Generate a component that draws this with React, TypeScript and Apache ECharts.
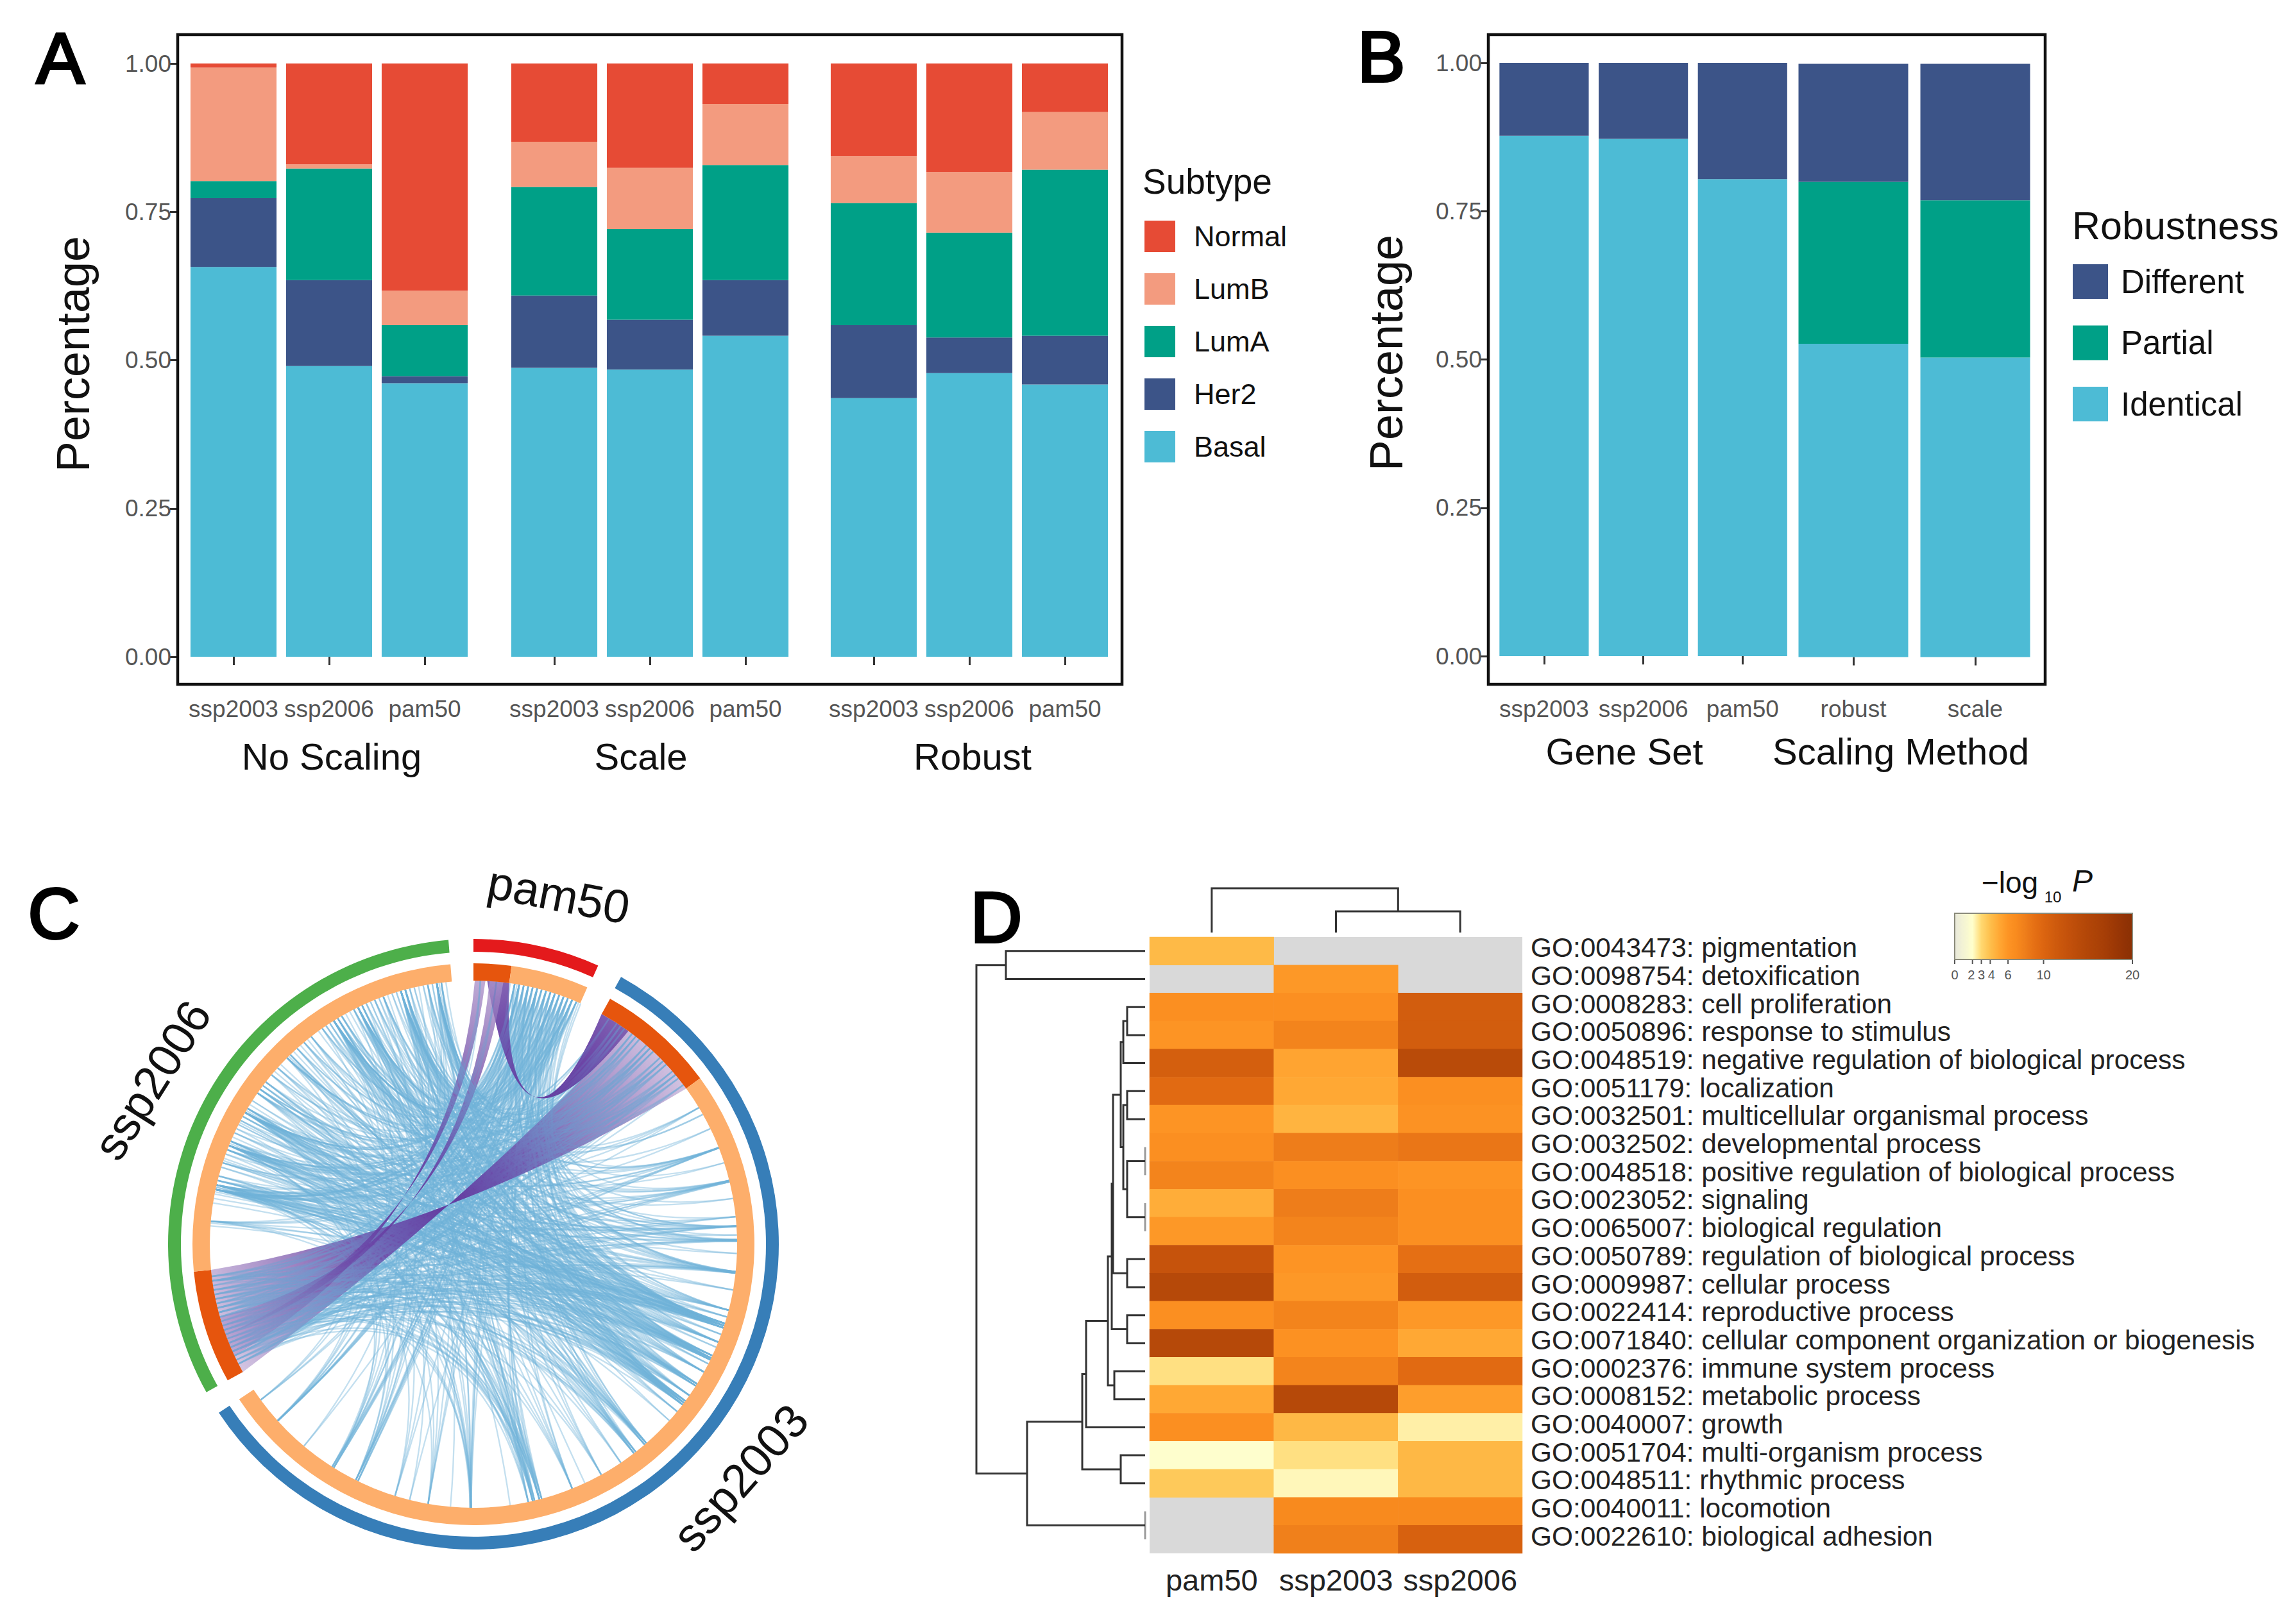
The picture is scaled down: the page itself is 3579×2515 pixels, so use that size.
import React, { useEffect, useRef } from "react";
import * as echarts from "echarts";

// ---------- Panel A ----------
const subsetsA = ["ssp2003", "ssp2006", "pam50"];
const basalA = [[0.657, 0.49, 0.461], [0.487, 0.484, 0.541], [0.436, 0.478, 0.459]];
const her2A = [[0.116, 0.145, 0.012], [0.122, 0.084, 0.094], [0.123, 0.06, 0.082]];
const lumAA = [[0.029, 0.188, 0.086], [0.183, 0.153, 0.194], [0.206, 0.177, 0.28]];
const lumBA = [[0.191, 0.007, 0.058], [0.076, 0.103, 0.103], [0.079, 0.102, 0.097]];
const normalA = [[0.007, 0.17, 0.383], [0.132, 0.176, 0.068], [0.156, 0.183, 0.082]];
const facetTitlesA = ["No Scaling", "Scale", "Robust"];

// ---------- Panel B ----------
const geneSetsB = ["ssp2003", "ssp2006", "pam50"];
const scalingB = ["robust", "scale"];
const identicalB = [[0.877, 0.872, 0.804], [0.528, 0.505]];
const partialB = [[0, 0, 0], [0.273, 0.265]];
const differentB = [[0.123, 0.128, 0.196], [0.199, 0.23]];

// ---------- Panel C (angles in degrees clockwise from the top) ----------
const outerArcs = [[0, 24.1], [28.9, 236.5], [241, 355.3]];
const innerDarkArcs = [[0, 7.8], [29.1, 53.8], [241, 264.4]];
const innerLightArcs = [[7.8, 23.9], [53.8, 236.5], [264.4, 355.3]];
const chordNames = ["pam50", "ssp2003", "ssp2006"];
// a1, a2, b1, b2, pinch offset x, pinch offset y
const purpleRibbons = [
  [36, 53.8, 241, 264.4, -38, -62],
  [3, 7.8, 29.1, 36, 95, -230],
  [0.3, 2.6, 245, 250, -108, -75],
  [3.5, 6.5, 250, 254, -98, -65],
];
// one end on ssp2003 or pam50 -> other ends
const blueLinkGroups: [number, number[]][] = [
  [58.8, [345, 318, 292, 255]], [60.5, [340, 12]], [64, [330, 283]], [68.6, [352, 326, 300, 262, 248]],
  [72, [14, 312]], [76.3, [339, 305, 288, 256, 245]], [80, [10, 322]], [84, [344, 299, 275, 258]],
  [86.1, [333, 315, 292, 282, 252, 20]], [88, [350, 303]], [89.3, [328, 308, 284, 260, 247, 16]], [92, [336, 295]],
  [96.3, [345, 325, 300, 280, 255, 243, 11, 22]], [100, [316, 287, 262]],
  [104.5, [352, 338, 320, 307, 291, 274.6, 258, 250, 13, 19]], [106, [330, 297, 283, 246]],
  [108, [353, 344, 334, 328, 315.5, 311, 301, 293, 285, 282, 262, 256, 249, 244, 9, 15, 21, 23]],
  [110, [340, 305, 288]], [111.8, [347, 332, 322, 308, 297, 282, 275, 259, 251, 12, 18]], [113, [326, 300]],
  [115.6, [352, 342, 329, 316, 303, 291, 284, 263, 254, 246, 10, 17, 23.5]], [117, [335, 310, 279]],
  [119, [345, 333, 319, 306, 294, 281.5, 257, 248, 14, 20]], [122, [350, 337, 324, 312, 298, 288, 274, 260, 243, 11, 22]],
  [125, [346, 330, 317, 302, 289, 283, 253, 245, 16]], [127, [353, 340, 327, 313, 299, 282, 261, 250, 9, 19, 24]],
  [129.4, [343, 321, 295, 256]], [132, [335, 287]], [139.5, [349, 334, 318, 298, 283, 252, 13]],
  [142, [344, 329, 308, 292, 259, 247, 18]], [146, [337, 305, 275]], [151, [352, 320, 285, 254, 10]], [155, [339]],
  [158, [345, 327, 301, 282, 263, 15, 22]], [165, [350, 331, 312, 290, 257, 12]], [166.6, [341, 318, 296, 282, 249, 17]],
  [168, [353, 334, 305, 275, 244, 20]], [172, [326]], [180.7, [346, 322, 293, 258, 14, 8]], [185, [338]],
  [189.9, [352, 328, 300, 262, 11, 19]], [194, [316, 23]], [197.3, [344, 310, 283, 13]], [206, [336, 305, 16, 21, 9.5]],
  [212.4, [350, 325, 292, 18, 12]], [220, [340, 22]], [227.9, [348, 315, 10, 15, 20]], [233.8, [333, 300, 12, 23]],
  [31, [345, 320, 288, 250]], [33, [352, 330, 300, 260, 245]], [35, [338, 310, 282, 255]], [37, [349, 325, 292, 262, 248]],
  [39, [342, 315, 275, 252]], [41, [334, 305, 285, 258, 243]], [43, [350, 328, 298, 263, 246]], [45, [340, 312, 282, 254]],
  [47, [353, 322, 290, 260, 249]], [49, [336, 307, 275, 256]], [51, [346, 318, 284, 244]], [52.8, [330, 295, 251]],
  [9, [345, 320, 296, 262, 250, 284]], [11, [335, 310, 282, 256]], [13, [352, 328, 300, 245]], [15, [340, 315, 275, 259]],
  [17, [347, 322, 292, 252]], [19, [333, 305, 282, 247]], [21, [350, 325, 288, 257]], [23, [344, 308, 263, 243]],
  [1.5, [345, 300, 255]], [5, [338, 283, 248]],
  // denser bundles seen at the rim
  [107.5, [282, 283, 285, 292, 292.5, 300, 300.5, 328, 329, 334, 335, 344, 345, 352, 353, 250, 253, 258]],
  [108.5, [281, 284, 291, 293, 299, 301, 327, 333, 343, 351, 354, 247, 255, 260, 14, 20]],
  [115, [282.5, 292, 297.5, 307, 315, 328, 334, 344, 352.5, 248, 255, 262]],
  [116, [283, 288.5, 300, 308, 316, 329, 335, 345, 244, 252, 259]],
  [127.5, [282, 292, 300, 306, 315, 328, 334, 344, 352, 246, 254, 262, 12, 17]],
  [126.5, [284, 293, 301, 307, 329, 335, 345, 351, 249, 257]],
  [122.5, [282.5, 291, 299, 306, 328, 344, 353, 247, 255]],
  [139, [282, 292, 300, 328, 344, 251, 258, 16, 20]],
  [142.5, [283, 291, 306, 334, 352, 246, 255, 12]],
  [165.5, [282, 292, 300, 328, 334, 344, 245, 252, 260, 14]],
  [167, [283, 293, 301, 329, 335, 345, 248, 256, 19]],
  [180.5, [282, 291, 300, 328, 344, 251, 262, 11, 21]],
  [206.5, [283, 292, 328, 344, 352, 14, 19, 11]],
  [212, [282, 300, 334, 345, 16, 21, 10]],
  [228, [292, 328, 352, 13, 18, 22]],
  [96, [282, 292, 300, 328, 344, 352, 246, 252, 260, 14, 18]],
  [89, [282, 300, 328, 344, 249, 256, 12]],
  [86, [283, 292, 334, 352, 246, 258, 17]],
  [76, [282, 292, 328, 344, 251, 262, 21]],
  [68.5, [283, 300, 334, 352, 244, 255, 16]],
  [42, [282, 292, 300, 328, 344, 352, 246, 253, 261]],
  [46, [283, 293, 301, 329, 345, 248, 256, 263]],
  [50, [282, 292, 300, 334, 352, 243, 251, 259]],
  [34, [283, 291, 306, 328, 344, 245, 254, 262]],
  [38, [282, 300, 315, 334, 352, 247, 257]],
  [10, [282, 292, 300, 328, 344, 352, 246, 253, 261]],
  [14, [283, 293, 301, 329, 345, 248, 256, 263]],
  [18, [282, 291, 306, 334, 352, 243, 251, 259]],
  [22, [283, 292, 315, 328, 344, 245, 254, 262]],
  [12, [282, 300, 334, 250]], [16, [292, 328, 344, 257]], [20, [283, 306, 352, 247]],
];

// ---------- Panel D ----------
const heatColumns = ["pam50", "ssp2003", "ssp2006"];
const goTerms = [
  "GO:0043473: pigmentation",
  "GO:0098754: detoxification",
  "GO:0008283: cell proliferation",
  "GO:0050896: response to stimulus",
  "GO:0048519: negative regulation of biological process",
  "GO:0051179: localization",
  "GO:0032501: multicellular organismal process",
  "GO:0032502: developmental process",
  "GO:0048518: positive regulation of biological process",
  "GO:0023052: signaling",
  "GO:0065007: biological regulation",
  "GO:0050789: regulation of biological process",
  "GO:0009987: cellular process",
  "GO:0022414: reproductive process",
  "GO:0071840: cellular component organization or biogenesis",
  "GO:0002376: immune system process",
  "GO:0008152: metabolic process",
  "GO:0040007: growth",
  "GO:0051704: multi-organism process",
  "GO:0048511: rhythmic process",
  "GO:0040011: locomotion",
  "GO:0022610: biological adhesion",
];
const pam50Log = [4.2, null, 6.5, 6, 10.8, 9.5, 6, 6.5, 7.5, 4.8, 5.8, 12.5, 14.5, 6.5, 14.5, 2.8, 5, 6.5, 1.9, 3.6, null, null];
const ssp2003Log = [null, 5.8, 6.5, 7.5, 5.2, 5, 4.5, 8, 6.5, 8, 7.5, 6, 5.8, 7.5, 6.3, 7.5, 14.5, 4.3, 2.8, 2.2, 7, 7.8];
const ssp2006Log = [null, null, 11, 11, 14, 6.5, 6.2, 8.5, 6, 6.5, 6.5, 9, 11, 5.8, 5, 9.5, 5.5, 2.4, 4.3, 4.3, 7, 10.5];
const colorbarTicks = [0, 2, 3, 4, 6, 10, 20];
// height, position 1, child height 1, position 2, child height 2
const rowDendrogram = [
  [217, 0, 0, 1, 0], [263, 0.5, 217, 18.65, 184], [28, 2, 0, 3, 0], [34, 2.5, 28, 4, 0], [38, 3.25, 34, 7, 34],
  [28, 5, 0, 6, 0], [34, 5.5, 28, 8.5, 28], [0, 7, 0, 8, 0], [0, 9, 0, 10, 0], [28, 7.5, 0, 9.5, 0],
  [50, 5.13, 38, 11.5, 28], [28, 11, 0, 12, 0], [28, 13, 0, 14, 0], [52, 8.3, 50, 13.5, 28], [48, 15, 0, 16, 0],
  [58, 10.9, 52, 15.5, 48], [92, 13.2, 58, 17, 0], [38, 18, 0, 19, 0], [98, 15.1, 92, 18.5, 38], [0, 20, 0, 21, 0],
  [184, 16.8, 98, 20.5, 0],
];
const columnDendrogram = [[33, 1, 0, 2, 0], [69, 0, 0, 1.5, 33]];

// ---------- styles ----------
const FONT = "Liberation Sans";
const NPG = { normal: "#E64B35", lumB: "#F39B7F", lumA: "#00A087", her2: "#3C5488", basal: "#4DBBD5" };
const HEAT_STOPS = [
  "#e8e8da", "#f4f4d4", "#ffffcc", "#ffd870", "#febf4c", "#ffa834", "#fd9424", "#f88a1e", "#ee7d1a", "#e56f14",
  "#dc6510", "#d25d0e", "#c9560c", "#c2500b", "#b94b09", "#b24608", "#ac4207", "#a53d06", "#9c3805", "#933305", "#8a3004",
];
const CX = 738, CY = 1940, RING = 411;

const rad = (d: number) => ((d - 90) * Math.PI) / 180;
const ringPoint = (d: number, r = RING): [number, number] => [CX + r * Math.cos(rad(d)), CY + r * Math.sin(rad(d))];

function linkControl(a: number, b: number): [number, number] {
  const diff = Math.abs(a - b);
  const sep = Math.min(diff, 360 - diff);
  let mid = (a + b) / 2;
  if (diff > 180) mid += 180;
  const k = 0.2 * Math.pow(1 - sep / 180, 2);
  return ringPoint(mid, RING * k);
}

function arcSeries(data: number[][], r0: number, r: number, colors: string[]): any {
  return {
    type: "custom",
    coordinateSystem: "none",
    silent: true,
    data,
    renderItem: (params: any, api: any) => ({
      type: "sector",
      shape: { cx: CX, cy: CY, r, r0, startAngle: rad(api.value(0)), endAngle: rad(api.value(1)), clockwise: true },
      style: { fill: colors[params.dataIndex % colors.length] },
    }),
  };
}

function ribbonSeries(stops: { offset: number; color: string }[]): any {
  return {
    type: "custom",
    coordinateSystem: "none",
    silent: true,
    data: purpleRibbons,
    renderItem: (_p: any, api: any) => {
      const [a1, a2, b1, b2, ox, oy] = [0, 1, 2, 3, 4, 5].map((i) => api.value(i));
      const px = CX + ox, py = CY + oy;
      const P1 = ringPoint(a1), P2 = ringPoint(a2), P3 = ringPoint(b1), P4 = ringPoint(b2);
      const c1 = [2 * px - (P2[0] + P4[0]) / 2, 2 * py - (P2[1] + P4[1]) / 2];
      const c2 = [2 * px - (P3[0] + P1[0]) / 2, 2 * py - (P3[1] + P1[1]) / 2];
      const d =
        `M${P1[0]} ${P1[1]}A${RING} ${RING} 0 0 1 ${P2[0]} ${P2[1]}` +
        `Q${c1[0]} ${c1[1]} ${P4[0]} ${P4[1]}A${RING} ${RING} 0 0 0 ${P3[0]} ${P3[1]}` +
        `Q${c2[0]} ${c2[1]} ${P1[0]} ${P1[1]}Z`;
      const fill = new echarts.graphic.RadialGradient(px, py, 430, stops, true);
      return { type: "path", shape: { pathData: d }, style: { fill } };
    },
  };
}

function dendroSeries(merges: number[][], xAxisIndex: number, yAxisIndex: number, heightIsX: boolean, width: number): any {
  return {
    type: "custom",
    coordinateSystem: "cartesian2d",
    xAxisIndex,
    yAxisIndex,
    silent: true,
    clip: false,
    encode: { x: heightIsX ? 0 : 1, y: heightIsX ? 1 : 0 },
    data: merges,
    renderItem: (_p: any, api: any) => {
      const [h, p1, c1, p2, c2] = [0, 1, 2, 3, 4].map((i) => api.value(i));
      const pt = (height: number, pos: number) => api.coord(heightIsX ? [height, pos] : [pos, height]);
      return {
        type: "polyline",
        shape: { points: [pt(c1, p1), pt(h, p1), pt(h, p2), pt(c2, p2)] },
        style: { stroke: h === 0 ? "#9a9a9a" : "#333333", lineWidth: width, fill: "none" },
      };
    },
  };
}

function barX(gridIndex: number, data: string[], offset: number): any {
  return {
    type: "category",
    gridIndex,
    data,
    offset,
    axisLine: { show: false },
    axisTick: { show: true, alignWithLabel: true, length: 13, lineStyle: { color: "#333333", width: 3 } },
    axisLabel: { fontSize: 37, color: "#555555", margin: 19, interval: 0, fontFamily: FONT },
    splitLine: { show: false },
  };
}

function barY(gridIndex: number, visible: boolean, offset: number): any {
  return {
    type: "value",
    gridIndex,
    min: 0,
    max: 1,
    interval: 0.25,
    offset,
    show: visible,
    axisLine: { show: false },
    axisTick: { show: true, length: 12, lineStyle: { color: "#333333", width: 3 } },
    axisLabel: { fontSize: 37, color: "#555555", margin: 10, fontFamily: FONT, formatter: (v: number) => v.toFixed(2) },
    splitLine: { show: false },
  };
}

function bar(name: string, color: string, data: number[], axis: number, stack: string): any {
  return {
    type: "bar", name, stack, data, xAxisIndex: axis, yAxisIndex: axis, barWidth: "90%",
    itemStyle: { color }, silent: true,
  };
}

function txt(text: string, x: number, y: number, fontSize: number, extra: any = {}, rotation = 0, fontStyle = "normal"): any {
  return {
    type: "text", x, y, rotation, z: 50, silent: true,
    style: {
      text, fontSize, fontFamily: FONT, fontStyle, fill: extra.fill || "#111111",
      textAlign: extra.align || "center", textVerticalAlign: "middle",
      stroke: extra.stroke, lineWidth: extra.lineWidth,
    },
  };
}

const LETTER = { stroke: "#000000", lineWidth: 4, fill: "#000000" };

const frame = (x: number, y: number, width: number, height: number) => ({
  type: "rect", z: 40, silent: true, shape: { x, y, width, height },
  style: { fill: "none", stroke: "#111111", lineWidth: 4.5 },
});

function buildOption(): any {
  const grids = [
    { left: 289.5, top: 99, width: 447, height: 925 },
    { left: 789.5, top: 99, width: 447, height: 925 },
    { left: 1287.5, top: 99, width: 447, height: 925 },
    { left: 2329.6, top: 98, width: 464, height: 925 },
    { left: 2794, top: 99.5, width: 380, height: 925 },
    { left: 1792, top: 1461, width: 581, height: 961, show: true, backgroundColor: "#d9d9d9", borderWidth: 0 },
    { left: 1520, top: 1461, width: 265, height: 961 },
    { left: 1792, top: 1384, width: 581, height: 70 },
    { left: 1792, top: 1456, width: 581, height: 961 },
  ];
  const xAxes: any[] = [
    barX(0, subsetsA, 44), barX(1, subsetsA, 44), barX(2, subsetsA, 44),
    barX(3, geneSetsB, 45), barX(4, scalingB, 43.5),
    {
      type: "category", gridIndex: 5, data: heatColumns, axisLine: { show: false }, axisTick: { show: false },
      axisLabel: { fontSize: 47, color: "#222222", margin: 18, interval: 0, fontFamily: FONT },
    },
    { type: "value", gridIndex: 6, min: 0, max: 265, inverse: true, show: false },
    { type: "value", gridIndex: 7, min: -0.5, max: 2.5, show: false },
    { type: "category", gridIndex: 8, data: heatColumns, show: false },
  ];
  const yAxes: any[] = [
    barY(0, true, 12.5), barY(1, false, 0), barY(2, false, 0),
    barY(3, true, 9.6), barY(4, false, 0),
    { type: "category", gridIndex: 5, data: goTerms, inverse: true, show: false },
    { type: "value", gridIndex: 6, min: -0.5, max: 21.5, inverse: true, show: false },
    { type: "value", gridIndex: 7, min: 0, max: 70, show: false },
    {
      type: "category", gridIndex: 8, data: goTerms, inverse: true, position: "right",
      axisLine: { show: false }, axisTick: { show: false },
      axisLabel: { fontSize: 42.4, color: "#222222", margin: 13, interval: 0, fontFamily: FONT },
    },
  ];

  const series: any[] = [];
  [0, 1, 2].forEach((f) => {
    const st = "A" + f;
    series.push(
      bar("Basal", NPG.basal, basalA[f], f, st),
      bar("Her2", NPG.her2, her2A[f], f, st),
      bar("LumA", NPG.lumA, lumAA[f], f, st),
      bar("LumB", NPG.lumB, lumBA[f], f, st),
      bar("Normal", NPG.normal, normalA[f], f, st),
    );
  });
  [0, 1].forEach((f) => {
    const st = "B" + f;
    series.push(
      bar("Identical", NPG.basal, identicalB[f], 3 + f, st),
      bar("Partial", NPG.lumA, partialB[f], 3 + f, st),
      bar("Different", NPG.her2, differentB[f], 3 + f, st),
    );
  });

  // Panel C
  const blueLinks = blueLinkGroups.flatMap(([a, ends]) => ends.map((b) => [a, b]));
  series.push(ribbonSeries([
    { offset: 0, color: "rgb(104,62,160)" },
    { offset: 0.3, color: "rgb(125,90,175)" },
    { offset: 0.6, color: "rgb(170,145,200)" },
    { offset: 1, color: "rgb(222,210,232)" },
  ]));
  series.push({
    type: "custom",
    coordinateSystem: "none",
    silent: true,
    data: blueLinks,
    renderItem: (_p: any, api: any) => {
      const a = api.value(0), b = api.value(1);
      const p = ringPoint(a), q = ringPoint(b), c = linkControl(a, b);
      return {
        type: "bezierCurve",
        shape: { x1: p[0], y1: p[1], x2: q[0], y2: q[1], cpx1: c[0], cpy1: c[1] },
        style: { stroke: "#6fb3d8", lineWidth: 2.3, opacity: 0.42, fill: "none" },
      };
    },
  });
  series.push(ribbonSeries([
    { offset: 0, color: "rgba(100,50,155,0.95)" },
    { offset: 0.22, color: "rgba(105,65,165,0.75)" },
    { offset: 0.5, color: "rgba(120,90,175,0.35)" },
    { offset: 1, color: "rgba(160,130,195,0.08)" },
  ]));
  series.push(arcSeries(outerArcs, 456, 476, ["#E41A1C", "#377EB8", "#4DAF4A"]));
  series.push(arcSeries(innerDarkArcs, 411, 438, ["#E6550D"]));
  series.push(arcSeries(innerLightArcs, 411, 438, ["#FDAE6B"]));

  // Panel D
  const heatData: any[] = [];
  [pam50Log, ssp2003Log, ssp2006Log].forEach((col, x) =>
    col.forEach((v, y) => {
      if (v !== null) heatData.push([x, y, v]);
    }),
  );
  const heatIndex = series.length;
  series.push({ type: "heatmap", xAxisIndex: 5, yAxisIndex: 5, data: heatData, silent: true, itemStyle: { borderWidth: 0 } });
  series.push(dendroSeries(rowDendrogram, 6, 6, true, 3));
  series.push(dendroSeries(columnDendrogram, 7, 7, false, 3));

  const colorbarX = (v: number) => 3047 + (v / 20) * 277;
  const graphic: any[] = [
    frame(277, 54, 1472, 1013),
    frame(2320, 54, 868, 1013),
    txt("A", 94, 90, 112, LETTER),
    txt("B", 2153, 88, 112, LETTER),
    txt("C", 84, 1424, 112, LETTER),
    txt("D", 1553, 1430, 112, LETTER),
    txt("Percentage", 114, 552, 72, {}, Math.PI / 2),
    txt("Percentage", 2161, 550, 72, {}, Math.PI / 2),
    txt(facetTitlesA[0], 517, 1179, 58),
    txt(facetTitlesA[1], 999, 1179, 58),
    txt(facetTitlesA[2], 1516, 1179, 58),
    txt("Gene Set", 2532, 1171, 58),
    txt("Scaling Method", 2963, 1171, 58),
    txt("Subtype", 1781, 283, 55, { align: "left" }),
    txt("Robustness", 3230, 352, 61, { align: "left" }),
    txt(chordNames[0], 871, 1395, 73, {}, -0.19),
    txt(chordNames[1], 1154, 2304, 73, {}, (48.5 * Math.PI) / 180),
    txt(chordNames[2], 237, 1684, 73, {}, (57.8 * Math.PI) / 180),
    txt("\u2212log", 3133, 1376, 46),
    txt("10", 3200, 1398, 24),
    txt("P", 3246, 1373, 48, {}, 0, "italic"),
    ...colorbarTicks.map((t) => ({
      type: "line", silent: true, z: 45,
      shape: { x1: colorbarX(t), y1: 1496, x2: colorbarX(t), y2: 1503 },
      style: { stroke: "#555555", lineWidth: 2 },
    })),
    ...colorbarTicks.map((t) => txt(String(t), colorbarX(t) + (t === 2 ? -2 : t === 4 ? 2 : 0), 1520, 20, { fill: "#555555" })),
    {
      type: "rect", z: 45, silent: true, shape: { x: 3047, y: 1424, width: 277, height: 72 },
      style: { fill: "none", stroke: "#8a8a7a", lineWidth: 2 },
    },
  ];

  return {
    animation: false,
    backgroundColor: "#ffffff",
    textStyle: { fontFamily: FONT },
    grid: grids,
    xAxis: xAxes,
    yAxis: yAxes,
    series,
    graphic,
    legend: [
      {
        data: ["Normal", "LumB", "LumA", "Her2", "Basal"], orient: "vertical", left: 1784, top: 344, padding: 0,
        itemWidth: 48, itemHeight: 49, itemGap: 33, selectedMode: false, icon: "rect",
        textStyle: { fontSize: 45, color: "#111111", padding: [0, 0, 0, 24], fontFamily: FONT },
      },
      {
        data: ["Different", "Partial", "Identical"], orient: "vertical", left: 3231, top: 412, padding: 0,
        itemWidth: 55, itemHeight: 54, itemGap: 41.5, selectedMode: false, icon: "rect",
        textStyle: { fontSize: 51, color: "#111111", padding: [0, 0, 0, 15], fontFamily: FONT },
      },
    ],
    visualMap: {
      type: "continuous", seriesIndex: heatIndex, dimension: 2, min: 0, max: 20, calculable: false, show: true,
      orient: "horizontal", left: 3047, top: 1424, itemWidth: 72, itemHeight: 277, padding: 0, text: ["", ""], showLabel: false,
      inRange: { color: HEAT_STOPS }, hoverLink: false, borderWidth: 0,
    },
  };
}

export default function App() {
  const ref = useRef<HTMLDivElement>(null);
  useEffect(() => {
    document.body.style.margin = "0";
    const chart = echarts.init(ref.current!, undefined, { renderer: "svg", width: 3579, height: 2515 });
    chart.setOption(buildOption());
    return () => chart.dispose();
  }, []);
  return <div ref={ref} style={{ width: 3579, height: 2515 }} />;
}
